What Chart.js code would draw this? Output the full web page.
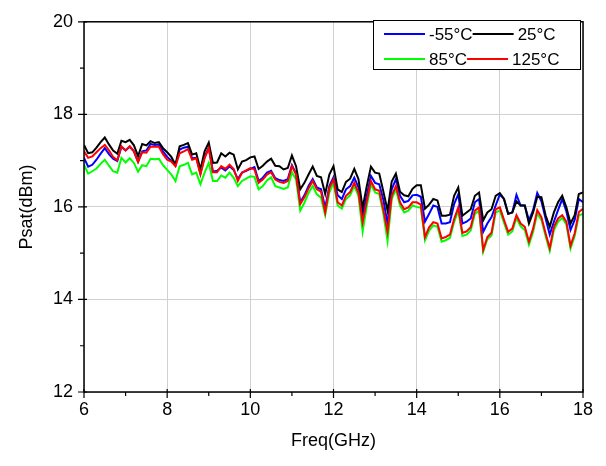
<html><head>
<meta charset="UTF-8">
<title>Psat vs Freq</title>
<script src="https://cdn.jsdelivr.net/npm/chart.js"></script>
<style>
  body { margin: 0; background: #fff; }
  #wrap { width: 606px; height: 466px; }
</style>
</head>
<body>
<div id="wrap"><canvas id="psatChart" width="606" height="466"></canvas></div>
<script>
// frequency points (GHz)
const freq = [
  6.0, 6.1, 6.2, 6.3, 6.4, 6.5, 6.6, 6.7, 6.8, 6.9, 7.0, 7.1, 7.2, 7.3, 7.4, 7.5, 7.6, 7.7, 7.8, 7.9,
  8.0, 8.1, 8.2, 8.3, 8.4, 8.5, 8.6, 8.7, 8.8, 8.9, 9.0, 9.1, 9.2, 9.3, 9.4, 9.5, 9.6, 9.7, 9.8, 9.9,
  10.0, 10.1, 10.2, 10.3, 10.4, 10.5, 10.6, 10.7, 10.8, 10.9, 11.0, 11.1, 11.2, 11.3, 11.4, 11.5, 11.6, 11.7, 11.8, 11.9,
  12.0, 12.1, 12.2, 12.3, 12.4, 12.5, 12.6, 12.7, 12.8, 12.9, 13.0, 13.1, 13.2, 13.3, 13.4, 13.5, 13.6, 13.7, 13.8, 13.9,
  14.0, 14.1, 14.2, 14.3, 14.4, 14.5, 14.6, 14.7, 14.8, 14.9, 15.0, 15.1, 15.2, 15.3, 15.4, 15.5, 15.6, 15.7, 15.8, 15.9,
  16.0, 16.1, 16.2, 16.3, 16.4, 16.5, 16.6, 16.7, 16.8, 16.9, 17.0, 17.1, 17.2, 17.3, 17.4, 17.5, 17.6, 17.7, 17.8, 17.9,
  18.0
];

// Psat (dBm) per temperature
const psatM55 = [
  17.06, 16.87, 16.91, 17.02, 17.15, 17.27, 17.14, 17.04, 16.99, 17.30, 17.22, 17.30, 17.20, 16.98, 17.20, 17.22, 17.36, 17.34, 17.35, 17.20,
  17.08, 17.00, 16.90, 17.24, 17.28, 17.30, 17.05, 17.06, 16.72, 17.08, 17.28, 16.76, 16.78, 16.85, 16.79, 16.88, 16.80, 16.60, 16.74, 16.78,
  16.82, 16.86, 16.56, 16.63, 16.74, 16.78, 16.62, 16.58, 16.56, 16.60, 16.90, 16.72, 16.10, 16.25, 16.45, 16.60, 16.42, 16.38, 15.98, 16.45,
  16.64, 16.25, 16.17, 16.38, 16.45, 16.63, 16.42, 15.82, 16.25, 16.67, 16.52, 16.49, 16.15, 15.63, 16.38, 16.60, 16.24, 16.10, 16.13, 16.25,
  16.26, 16.22, 15.68, 15.85, 16.03, 16.00, 15.64, 15.64, 15.67, 16.06, 16.27, 15.64, 15.68, 15.75, 16.10, 16.17, 15.46, 15.64, 15.78, 16.03,
  16.27, 16.17, 15.85, 15.88, 16.26, 16.03, 16.03, 15.71, 15.93, 16.30, 16.12, 15.75, 15.40, 15.68, 15.93, 16.17, 15.90, 15.50, 15.72, 16.17,
  16.10
];
const psat25 = [
  17.34, 17.16, 17.18, 17.28, 17.40, 17.50, 17.35, 17.22, 17.15, 17.43, 17.40, 17.45, 17.33, 17.10, 17.36, 17.33, 17.42, 17.38, 17.40, 17.27,
  17.18, 17.08, 16.91, 17.31, 17.34, 17.38, 17.13, 17.16, 16.81, 17.20, 17.39, 16.95, 16.96, 17.16, 17.09, 17.17, 17.13, 16.81, 16.98, 17.01,
  17.07, 17.09, 16.82, 16.89, 16.98, 17.04, 16.89, 16.88, 16.81, 16.84, 17.11, 16.88, 16.38, 16.52, 16.70, 16.87, 16.67, 16.64, 16.28, 16.70,
  16.88, 16.38, 16.32, 16.54, 16.61, 16.82, 16.60, 15.98, 16.45, 16.87, 16.74, 16.72, 16.33, 15.92, 16.55, 16.72, 16.33, 16.25, 16.23, 16.39,
  16.47, 16.47, 15.96, 16.05, 16.17, 16.14, 15.81, 15.81, 15.83, 16.24, 16.42, 15.81, 15.88, 15.95, 16.24, 16.31, 15.71, 15.88, 15.95, 16.24,
  16.30, 16.17, 15.85, 15.88, 16.12, 16.03, 16.03, 15.64, 15.88, 16.22, 16.21, 15.82, 15.57, 15.88, 16.10, 16.24, 15.99, 15.64, 15.82, 16.28,
  16.31
];
const psat85 = [
  16.91, 16.72, 16.77, 16.83, 16.93, 17.02, 16.89, 16.77, 16.74, 17.06, 16.96, 17.05, 16.95, 16.76, 16.90, 16.88, 17.04, 17.03, 17.04, 16.90,
  16.80, 16.70, 16.56, 16.88, 16.91, 16.95, 16.70, 16.74, 16.49, 16.74, 16.95, 16.56, 16.56, 16.68, 16.63, 16.74, 16.63, 16.45, 16.56, 16.61,
  16.66, 16.65, 16.38, 16.45, 16.57, 16.64, 16.45, 16.42, 16.39, 16.42, 16.75, 16.59, 15.92, 16.09, 16.30, 16.45, 16.27, 16.20, 15.82, 16.31,
  16.52, 16.03, 15.96, 16.17, 16.25, 16.45, 16.24, 15.47, 16.02, 16.49, 16.31, 16.28, 15.85, 15.26, 16.17, 16.38, 16.03, 15.88, 15.92, 16.03,
  16.00, 15.98, 15.28, 15.49, 15.60, 15.57, 15.25, 15.28, 15.33, 15.67, 15.92, 15.37, 15.40, 15.49, 15.85, 15.92, 15.03, 15.30, 15.38, 15.88,
  15.92, 15.66, 15.40, 15.47, 15.76, 15.58, 15.50, 15.18, 15.46, 15.86, 15.72, 15.37, 15.05, 15.50, 15.68, 15.76, 15.62, 15.10, 15.37, 15.82,
  15.85
];
const psat125 = [
  17.20, 17.06, 17.09, 17.18, 17.27, 17.34, 17.22, 17.08, 17.01, 17.31, 17.22, 17.31, 17.20, 16.97, 17.18, 17.17, 17.30, 17.30, 17.30, 17.14,
  17.02, 16.98, 16.88, 17.16, 17.20, 17.25, 17.02, 17.05, 16.70, 17.05, 17.27, 16.75, 16.75, 16.88, 16.82, 16.91, 16.82, 16.56, 16.74, 16.79,
  16.84, 16.81, 16.52, 16.59, 16.70, 16.75, 16.59, 16.54, 16.52, 16.56, 16.88, 16.70, 16.06, 16.21, 16.40, 16.56, 16.38, 16.33, 15.88, 16.41,
  16.59, 16.10, 16.03, 16.24, 16.32, 16.52, 16.31, 15.67, 16.12, 16.56, 16.38, 16.35, 15.93, 15.46, 16.24, 16.45, 16.10, 15.95, 15.99, 16.10,
  16.10, 16.05, 15.35, 15.56, 15.67, 15.64, 15.32, 15.35, 15.40, 15.74, 15.99, 15.44, 15.47, 15.56, 15.92, 15.99, 15.07, 15.35, 15.44, 15.95,
  15.99, 15.72, 15.46, 15.53, 15.82, 15.64, 15.57, 15.25, 15.53, 15.93, 15.78, 15.43, 15.11, 15.57, 15.75, 15.82, 15.68, 15.16, 15.43, 15.89,
  15.96
];

const xTicks = [6, 8, 10, 12, 14, 16, 18];
const yTicks = [12, 14, 16, 18, 20];

const FONT = "'Liberation Sans', Arial, sans-serif";

function pts(vals) {
  return vals.map((v, i) => ({ x: freq[i], y: v }));
}

// frame, crossing major ticks, minor ticks, legend box
const framePlugin = {
  id: 'frame',
  afterDraw(chart) {
    const ctx = chart.ctx;
    const a = chart.chartArea;
    const xs = chart.scales.x, ys = chart.scales.y;
    ctx.save();
    ctx.strokeStyle = '#000';
    ctx.lineWidth = 1.5;
    ctx.strokeRect(a.left, a.top, a.right - a.left, a.bottom - a.top);

    ctx.lineWidth = 1.2;
    ctx.beginPath();
    for (let v = 6; v <= 18; v++) {
      const px = xs.getPixelForValue(v);
      if (v % 2 === 0) { ctx.moveTo(px, a.bottom - 3); ctx.lineTo(px, a.bottom + 6); }
      else { ctx.moveTo(px, a.bottom); ctx.lineTo(px, a.bottom + 4); }
    }
    for (let v = 12; v <= 20; v++) {
      const py = ys.getPixelForValue(v);
      if (v % 2 === 0) { ctx.moveTo(a.left + 3, py); ctx.lineTo(a.left - 6, py); }
      else { ctx.moveTo(a.left, py); ctx.lineTo(a.left - 4, py); }
    }
    ctx.stroke();

    // legend
    ctx.lineWidth = 1;
    ctx.fillStyle = '#fff';
    ctx.fillRect(373, 20, 207, 49);
    ctx.strokeRect(373.5, 20.5, 207, 49);
    ctx.font = '17px ' + FONT;
    ctx.textBaseline = 'middle';
    const rows = [[0, 1], [2, 3]];
    const rowY = [34, 59];
    rows.forEach((row, r) => {
      let x = 384;
      row.forEach(idx => {
        const ds = chart.data.datasets[idx];
        ctx.strokeStyle = ds.borderColor;
        ctx.lineWidth = 2;
        ctx.beginPath();
        ctx.moveTo(x, rowY[r]);
        ctx.lineTo(x + 41, rowY[r]);
        ctx.stroke();
        ctx.fillStyle = '#000';
        ctx.fillText(ds.label, x + 45, rowY[r] + 1);
        x = x + 45 + ctx.measureText(ds.label).width;
      });
    });
    ctx.restore();
  }
};

new Chart(document.getElementById('psatChart').getContext('2d'), {
  type: 'line',
  data: {
    datasets: [
      { label: '-55°C', data: pts(psatM55), borderColor: '#0000ff', order: 3 },
      { label: '25°C', data: pts(psat25), borderColor: '#000000', order: 2 },
      { label: '85°C', data: pts(psat85), borderColor: '#00ff00', order: 4 },
      { label: '125°C', data: pts(psat125), borderColor: '#ff0000', order: 1 }
    ]
  },
  options: {
    responsive: false,
    animation: false,
    layout: { padding: { top: 17, right: 23, left: 0, bottom: 0 } },
    elements: {
      line: { borderWidth: 2, tension: 0, fill: false },
      point: { radius: 0 }
    },
    plugins: { legend: { display: false }, tooltip: { enabled: false } },
    scales: {
      x: {
        type: 'linear',
        min: 6, max: 18,
        afterFit: s => { s.height = 74; },
        afterBuildTicks: s => { s.ticks = xTicks.map(v => ({ value: v })); },
        grid: { color: '#d0d0d0', lineWidth: 1, drawTicks: false },
        border: { display: false },
        ticks: { color: '#000', font: { family: FONT, size: 18 }, padding: 7, maxRotation: 0 },
        title: { display: true, text: 'Freq(GHz)', color: '#000', font: { family: FONT, size: 18 }, padding: { top: 0, bottom: 14 } }
      },
      y: {
        min: 12, max: 20,
        afterFit: s => { s.width = 84; },
        afterBuildTicks: s => { s.ticks = yTicks.map(v => ({ value: v })); },
        grid: { color: '#d0d0d0', lineWidth: 1, drawTicks: false },
        border: { display: false },
        ticks: { color: '#000', font: { family: FONT, size: 18 }, padding: 11 },
        title: { display: true, text: 'Psat(dBm)', color: '#000', font: { family: FONT, size: 18 }, padding: { top: 16, bottom: 0 } }
      }
    }
  },
  plugins: [framePlugin]
});
</script>
</body></html>
